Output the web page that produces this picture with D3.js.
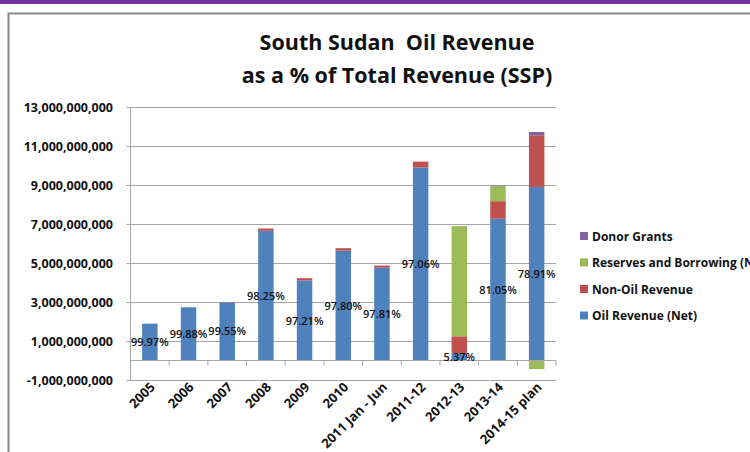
<!DOCTYPE html>
<html lang="en">
<head>
    <meta charset="UTF-8">
    <title>South Sudan Oil Revenue</title>
    <script src="https://d3js.org/d3.v7.min.js"></script>
    <style>
        body { margin: 0; background: #fff; overflow: hidden; }
        text { font-family: "Open Sans", Lato, sans-serif; }
    </style>
</head>
<body>
    <div id="chart"></div>

    <script>
        // data (SSP)
        const categories = ["2005", "2006", "2007", "2008", "2009", "2010", "2011 Jan - Jun", "2011-12", "2012-13", "2013-14", "2014-15 plan"];
        const oilRevenue = [1.89e9, 2.73e9, 2.98e9, 6.65e9, 4.10e9, 5.63e9, 4.76e9, 9.90e9, 0.37e9, 7.27e9, 8.90e9];
        const nonOilRevenue = [0.0006e9, 0.003e9, 0.013e9, 0.12e9, 0.12e9, 0.13e9, 0.11e9, 0.30e9, 0.87e9, 0.90e9, 2.65e9];
        const reserves = [0, 0, 0, 0, 0, 0, 0, 0, 5.65e9, 0.77e9, -0.44e9];
        const donorGrants = [0, 0, 0, 0, 0, 0, 0, 0, 0, 0.03e9, 0.17e9];
        const oilShare = ["99.97%", "99.88%", "99.55%", "98.25%", "97.21%", "97.80%", "97.81%", "97.06%", "5.37%", "81.05%", "78.91%"];
        const yTicks = [-1e9, 1e9, 3e9, 5e9, 7e9, 9e9, 11e9, 13e9];

        const seriesNames = ["Oil Revenue (Net)", "Non-Oil Revenue", "Reserves and Borrowing (Net)", "Donor Grants"];
        const colors = ["#4f81bd", "#c0504d", "#9bbb59", "#8064a2"];

        const W = 750, H = 452;
        const svg = d3.select("#chart").append("svg")
            .attr("width", W)
            .attr("height", H);

        // slide frame
        svg.append("rect").attr("x", 0).attr("y", 0).attr("width", W).attr("height", 4).attr("fill", "#7030a0");
        svg.append("rect").attr("x", 8.5).attr("y", 13.5).attr("width", W + 20).attr("height", H + 20)
            .attr("fill", "none").attr("stroke", "#8a8a8a").attr("stroke-width", 2);

        const rows = categories.map((c, i) => ({
            cat: c, oil: oilRevenue[i], non: nonOilRevenue[i], res: reserves[i], don: donorGrants[i]
        }));
        const keys = ["oil", "non", "res", "don"];
        const stacked = d3.stack().keys(keys).offset(d3.stackOffsetDiverging)(rows);

        const x = d3.scaleBand().domain(categories).range([130.5, 556]).paddingInner(0.6).paddingOuter(0.3);
        const y = d3.scaleLinear().domain([-1e9, 13e9]).range([380, 107]);

        // gridlines
        svg.append("g")
            .attr("transform", "translate(130.5,0)")
            .call(d3.axisLeft(y).tickValues(yTicks).tickSize(-425.5).tickFormat(""))
            .call(g => g.select(".domain").remove())
            .call(g => g.selectAll("line").attr("stroke", "#a6a6a6").attr("x1", -4));

        // y axis line + labels (plain hyphen for negatives, as in Excel)
        const fmt = d => d3.format(",")(d).replace("\u2212", "-");
        svg.append("line").attr("x1", 130.5).attr("x2", 130.5).attr("y1", y(13e9)).attr("y2", y(-1e9))
            .attr("stroke", "#a6a6a6");
        svg.append("g").selectAll("text").data(yTicks).join("text")
            .attr("x", 113).attr("y", d => y(d) + 4.5)
            .attr("text-anchor", "end")
            .attr("font-size", 12.5).attr("font-weight", "bold").attr("fill", "#111")
            .text(fmt);

        // bars
        svg.append("g").selectAll("g").data(stacked).join("g")
            .attr("fill", (d, i) => colors[i])
            .selectAll("rect").data(d => d).join("rect")
            .attr("x", d => x(d.data.cat))
            .attr("width", x.bandwidth())
            .attr("y", d => y(Math.max(d[0], d[1])))
            .attr("height", d => Math.abs(y(d[0]) - y(d[1])));

        // category axis at zero
        const x0 = y(0);
        svg.append("line").attr("x1", 130.5).attr("x2", 556).attr("y1", x0).attr("y2", x0).attr("stroke", "#a6a6a6");
        const step = x.step();
        svg.append("g").selectAll("line").data(d3.range(categories.length + 1)).join("line")
            .attr("x1", i => 130.5 + i * step).attr("x2", i => 130.5 + i * step)
            .attr("y1", x0).attr("y2", x0 + 5).attr("stroke", "#a6a6a6");

        svg.append("g").selectAll("text").data(categories).join("text")
            .attr("transform", d => `translate(${x(d) + x.bandwidth() / 2 + 6},${y(-1e9) + 8}) rotate(-45)`)
            .attr("text-anchor", "end")
            .attr("font-size", 13).attr("font-weight", "bold").attr("fill", "#111")
            .text(d => d);

        // oil share labels at centre of the oil segment
        svg.append("g").selectAll("text").data(stacked[0]).join("text")
            .attr("x", d => x(d.data.cat) + x.bandwidth() / 2)
            .attr("y", d => (y(d[0]) + y(d[1])) / 2 + 4)
            .attr("text-anchor", "middle")
            .attr("font-size", 11).attr("font-weight", 600).attr("fill", "#111")
            .text((d, i) => oilShare[i]);

        // title
        svg.append("text").attr("x", 397).attr("y", 50).attr("text-anchor", "middle")
            .attr("font-size", 21.5).attr("font-weight", "bold").attr("fill", "#111")
            .text("South Sudan\u00a0 Oil Revenue");
        svg.append("text").attr("x", 397).attr("y", 83).attr("text-anchor", "middle")
            .attr("font-size", 21.5).attr("font-weight", "bold").attr("fill", "#111")
            .text("as a % of Total Revenue (SSP)");

        // legend, top item is the top of the stack
        const legendOrder = [3, 2, 1, 0];
        const lg = svg.append("g").selectAll("g").data(legendOrder).join("g")
            .attr("transform", (d, i) => `translate(580,${236 + i * 26.5})`);
        lg.append("rect").attr("x", 0).attr("y", -4).attr("width", 8).attr("height", 8).attr("fill", d => colors[d]);
        lg.append("text").attr("x", 12).attr("y", 4.5)
            .attr("font-size", 12).attr("font-weight", "bold").attr("fill", "#111")
            .text(d => seriesNames[d]);
    </script>
</body>
</html>
